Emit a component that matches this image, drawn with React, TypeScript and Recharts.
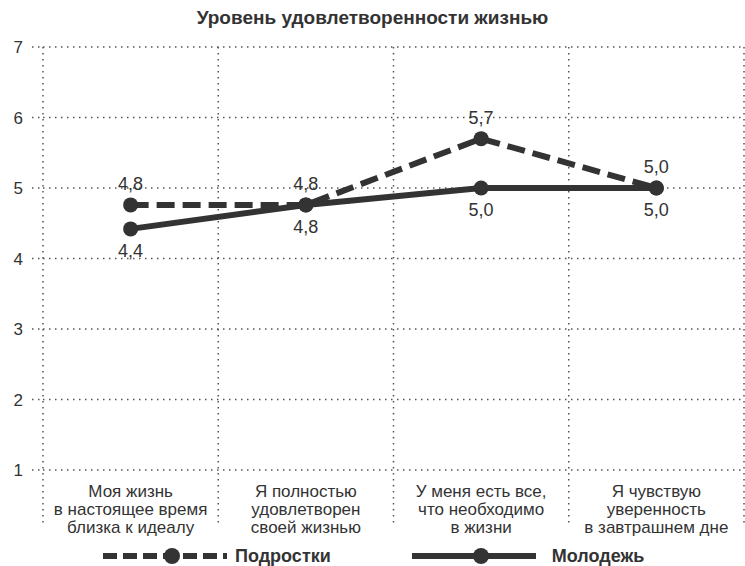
import React from 'react';
import { LineChart, Line, XAxis, YAxis, CartesianGrid, Legend, LabelList, ReferenceLine } from 'recharts';

const title = 'Уровень удовлетворенности жизнью';
const categories: string[][] = [
  ['Моя жизнь', 'в настоящее время', 'близка к идеалу'],
  ['Я полностью', 'удовлетворен', 'своей жизнью'],
  ['У меня есть все,', 'что необходимо', 'в жизни'],
  ['Я чувствую', 'уверенность', 'в завтрашнем дне'],
];
const teens = [4.76, 4.76, 5.7, 5.0];
const youth = [4.42, 4.76, 5.0, 5.0];
const yTicks = [1, 2, 3, 4, 5, 6, 7];
const boundaryTicks = [0, 1, 2, 3, 4];
const centerTicks = [0.5, 1.5, 2.5, 3.5];
const separatorTop = 7;
const separatorBottom = 0.25;

const series = [
  { key: 'teens', name: 'Подростки', dash: '18 8', legendDash: '14 6', labelPos: 'top' as const },
  { key: 'youth', name: 'Молодежь', dash: undefined, legendDash: undefined, labelPos: 'bottom' as const },
];

const data = categories.map((c, i) => ({ x: centerTicks[i], teens: teens[i], youth: youth[i] }));

const INK = '#333333';
const GRID = '#555555';
const FONT = '"Liberation Sans", Arial, sans-serif';
const DOTS = '1.5 4.5';

const fmt = (v: any) => Number(v).toFixed(1).replace('.', ',');

const CategoryTick = (props: any) => {
  const { x, y, payload } = props;
  const idx = centerTicks.indexOf(payload.value);
  const lines = categories[idx] || [];
  return (
    <text x={x} y={y} textAnchor="middle" fill={INK} fontSize={17} fontFamily={FONT}>
      {lines.map((l, i) => (
        <tspan key={i} x={x} dy={i === 0 ? 19 : 18}>{l}</tspan>
      ))}
    </text>
  );
};

const renderLegend = () => (
  <div style={{ display: 'flex', alignItems: 'center', height: 30, paddingLeft: 103, fontFamily: FONT }}>
    {series.map((s, i) => (
      <div key={s.key} style={{ display: 'flex', alignItems: 'center', marginRight: i === 0 ? 81 : 0 }}>
        <svg width={124} height={20}>
          <line x1={0} y1={10} x2={124} y2={10} stroke={INK} strokeWidth={6} strokeDasharray={s.legendDash} />
          <circle cx={69} cy={10} r={8} fill={INK} />
        </svg>
        <span style={{ marginLeft: i === 0 ? 8 : 16, fontWeight: 'bold', fontSize: 18, color: INK }}>{s.name}</span>
      </div>
    ))}
  </div>
);

export default function App() {
  return (
    <div style={{ position: 'absolute', left: 0, top: 0, width: 745, height: 566, background: '#ffffff', overflow: 'hidden', fontFamily: FONT }}>
      <div style={{ position: 'absolute', top: 7, left: 0, width: 745, textAlign: 'center', fontWeight: 'bold', fontSize: 19, color: INK }}>
        {title}
      </div>
      <LineChart width={745} height={566} data={data} margin={{ top: 47, right: 1, left: 0, bottom: 8 }}>
        <CartesianGrid vertical={false} stroke={GRID} strokeWidth={1.5} strokeDasharray={DOTS} />
        <XAxis
          xAxisId="main"
          type="number"
          dataKey="x"
          domain={[0, 4]}
          ticks={centerTicks}
          height={58}
          axisLine={false}
          tickLine={false}
          tick={<CategoryTick />}
          interval={0}
        />
        <YAxis
          type="number"
          domain={[1, 7]}
          ticks={yTicks}
          width={43}
          axisLine={false}
          tickLine={{ stroke: GRID, strokeWidth: 1.5, strokeDasharray: DOTS }}
          tickSize={11}
          tickMargin={9}
          tick={{ fill: INK, fontSize: 17, fontFamily: FONT }}
        />
        {boundaryTicks.map((b) => (
          <ReferenceLine
            key={b}
            xAxisId="main"
            segment={[{ x: b, y: separatorTop }, { x: b, y: separatorBottom }]}
            ifOverflow="visible"
            stroke={GRID}
            strokeWidth={1.5}
            strokeDasharray={DOTS}
          />
        ))}
        <Legend verticalAlign="bottom" content={renderLegend} wrapperStyle={{ left: 0, bottom: -5, width: 745, height: 30 }} />
        {series.map((s) => (
          <Line
            key={s.key}
            xAxisId="main"
            type="linear"
            dataKey={s.key}
            name={s.name}
            stroke={INK}
            strokeWidth={6}
            strokeDasharray={s.dash}
            dot={{ r: 7.5, fill: INK, stroke: INK, strokeWidth: 0 }}
            activeDot={false}
            isAnimationActive={false}
          >
            <LabelList dataKey={s.key} position={s.labelPos} offset={15} formatter={fmt} fill={INK} fontSize={18} fontFamily={FONT} />
          </Line>
        ))}
      </LineChart>
    </div>
  );
}
